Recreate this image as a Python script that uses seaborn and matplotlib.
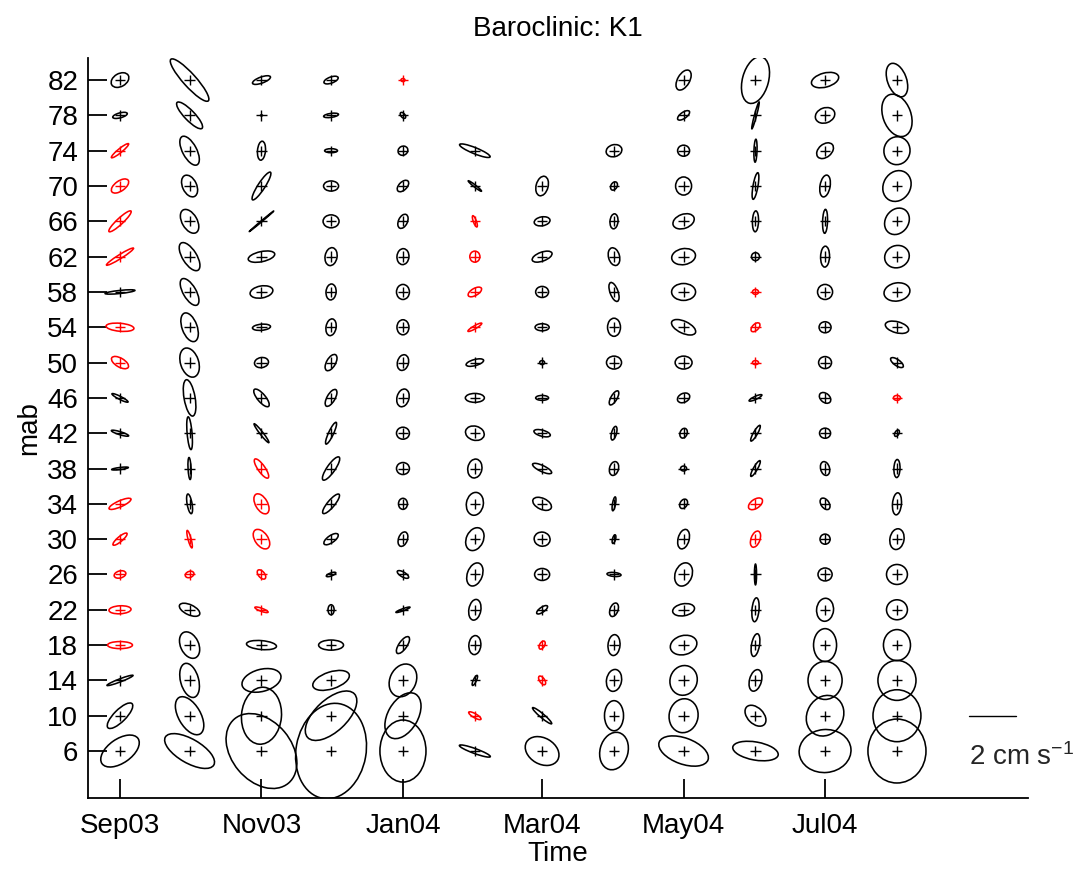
import numpy as np
import pandas as pd
import matplotlib
matplotlib.use("Agg")
import matplotlib.pyplot as plt
import matplotlib.dates as mdates
from matplotlib.collections import EllipseCollection
import seaborn as sns

# ---------------- data ----------------
mab = [82, 78, 74, 70, 66, 62, 58, 54, 50, 46, 42, 38, 34, 30, 26, 22, 18, 14, 10, 6]
months = ["2003-09-01", "2003-10-01", "2003-11-01", "2003-12-01", "2004-01-01", "2004-02-01",
          "2004-03-01", "2004-04-01", "2004-05-01", "2004-06-01", "2004-07-01", "2004-08-01"]
tick_dates = ["2003-09-01", "2003-11-01", "2004-01-01", "2004-03-01", "2004-05-01", "2004-07-01"]
tick_labels = ["Sep03", "Nov03", "Jan04", "Mar04", "May04", "Jul04"]
nan = np.nan

# major / minor axis (cm/s, full length), inclination (deg)
maj_sep = [0.81,0.64,0.94,0.85,1.28,1.36,1.28,1.19,0.81,0.77,0.77,0.72,1.02,0.77,0.51,0.94,1.06,1.19,1.45,1.87]
min_sep = [0.55,0.21,0.17,0.43,0.26,0.17,0.13,0.34,0.38,0.13,0.13,0.09,0.26,0.21,0.30,0.34,0.30,0.13,0.51,1.02]
inc_sep = [30,15,39,35,43,32,6,-5,-30,-27,-17,7,24,40,15,3,0,21,45,35]

maj_oct = [2.38,1.53,1.36,0.98,1.11,1.36,1.28,1.28,1.28,1.57,1.40,0.94,0.85,0.77,0.38,0.94,1.19,1.49,1.79,2.38]
min_oct = [0.55,0.43,0.60,0.60,0.64,0.60,0.55,0.64,0.77,0.47,0.21,0.13,0.21,0.13,0.26,0.43,0.77,0.77,0.94,1.02]
inc_oct = [-48,-46,-62,-65,-60,-58,-60,-70,-72,-80,-85,-87,-80,-75,20,-25,-65,-75,-60,-30]

maj_nov = [0.81,0.09,0.81,1.40,1.36,1.15,0.98,0.77,0.60,0.94,1.02,0.98,0.94,0.94,0.47,0.60,1.28,1.70,2.43,3.57]
min_nov = [0.26,0.04,0.34,0.30,0.04,0.43,0.51,0.26,0.43,0.34,0.13,0.30,0.51,0.55,0.26,0.13,0.38,0.94,1.70,2.55]
inc_nov = [20,0,85,57,40,12,10,5,10,-50,-52,-55,-60,-55,-50,-20,-5,15,85,-50]

maj_dec = [0.64,0.64,0.55,0.64,0.68,0.77,0.68,0.72,0.77,0.81,1.02,1.19,1.06,0.72,0.43,0.43,1.06,1.62,2.72,4.09]
min_dec = [0.26,0.17,0.17,0.43,0.55,0.51,0.43,0.43,0.38,0.34,0.21,0.34,0.30,0.30,0.13,0.26,0.43,0.72,1.36,2.98]
inc_dec = [20,8,0,0,0,80,85,80,60,60,65,55,50,35,20,90,0,18,43,80]

maj_jan = [0.17,0.30,0.43,0.60,0.64,0.68,0.64,0.64,0.68,0.77,0.55,0.55,0.47,0.64,0.55,0.64,0.85,1.45,2.13,2.64]
min_jan = [0.13,0.17,0.38,0.34,0.38,0.51,0.55,0.51,0.47,0.51,0.51,0.51,0.38,0.38,0.21,0.09,0.34,1.11,1.28,1.96]
inc_jan = [0,-50,30,45,65,85,90,90,75,75,0,0,90,70,-30,20,55,65,60,90]

maj_feb = [nan,nan,1.40,0.72,0.51,0.47,0.64,0.68,0.77,0.81,0.81,0.81,0.98,1.02,1.02,0.89,0.81,0.47,0.60,1.40]
min_feb = [nan,nan,0.26,0.09,0.13,0.43,0.30,0.13,0.26,0.38,0.60,0.60,0.72,0.72,0.64,0.51,0.51,0.13,0.17,0.21]
inc_feb = [nan,nan,-22,-38,-70,90,30,30,15,0,-15,80,80,65,70,80,85,65,-30,-20]

maj_mar = [nan,nan,nan,0.85,0.68,0.89,0.55,0.60,0.21,0.55,0.72,0.89,0.85,0.68,0.64,0.55,0.38,0.43,1.06,1.53]
min_mar = [nan,nan,nan,0.51,0.38,0.38,0.47,0.30,0.17,0.21,0.26,0.26,0.47,0.60,0.51,0.21,0.21,0.21,0.17,1.11]
inc_mar = [nan,nan,nan,75,10,20,0,0,0,0,-15,-25,-25,-10,0,35,60,-55,-40,-30]

maj_apr = [nan,nan,0.68,0.38,0.64,0.77,0.85,0.77,0.64,0.68,0.60,0.60,0.60,0.38,0.60,0.60,0.89,0.94,1.28,1.62]
min_apr = [nan,nan,0.51,0.26,0.34,0.47,0.34,0.55,0.55,0.26,0.21,0.38,0.13,0.13,0.17,0.34,0.51,0.64,0.81,1.19]
inc_apr = [nan,nan,15,60,85,-75,-70,90,0,60,75,75,80,75,-5,70,85,80,90,75]

maj_may = [0.94,0.60,0.51,0.77,0.94,1.02,1.02,1.11,0.72,0.55,0.43,0.26,0.43,0.85,1.02,0.94,1.15,1.28,1.45,2.21]
min_may = [0.51,0.26,0.47,0.68,0.60,0.68,0.72,0.51,0.55,0.38,0.30,0.21,0.30,0.47,0.72,0.51,0.81,1.15,1.23,1.11]
inc_may = [60,35,0,90,20,10,0,-25,0,25,70,0,60,75,70,10,15,70,80,-20]

maj_jun = [2.04,1.19,0.98,1.15,0.89,0.34,0.26,0.47,0.26,0.60,0.77,0.77,0.68,0.72,0.89,1.02,0.98,0.94,1.06,1.96]
min_jun = [1.11,0.09,0.13,0.21,0.26,0.34,0.21,0.26,0.17,0.13,0.17,0.17,0.38,0.38,0.09,0.30,0.34,0.51,0.68,0.77]
inc_jun = [75,75,88,80,88,0,0,45,0,25,60,60,35,70,90,85,80,75,-45,-10]

maj_jul = [1.19,0.85,0.81,0.94,1.02,0.89,0.64,0.51,0.55,0.55,0.47,0.60,0.55,0.43,0.60,0.98,1.40,1.62,1.79,2.21]
min_jul = [0.60,0.64,0.55,0.43,0.21,0.38,0.64,0.47,0.51,0.38,0.43,0.38,0.34,0.43,0.55,0.72,0.98,1.45,1.53,1.83]
inc_jul = [15,20,40,80,88,88,0,0,0,-40,0,-75,-55,0,0,85,90,90,60,5]

maj_aug = [1.49,1.87,1.19,1.36,1.19,1.06,1.11,1.02,0.64,0.30,0.30,0.77,0.94,0.89,0.89,0.89,1.32,1.70,2.21,2.72]
min_aug = [0.81,1.19,1.11,1.15,0.98,0.94,0.77,0.47,0.26,0.21,0.17,0.26,0.38,0.60,0.85,0.85,1.15,1.62,2.04,2.47]
inc_aug = [-70,-70,80,60,55,20,10,-15,-35,0,60,88,85,80,0,0,90,90,90,90]

# depths (mab) flagged in red for each month
red_sep = [74, 70, 66, 62, 54, 50, 34, 30, 26, 22, 18]
red_oct = [30, 26]
red_nov = [38, 34, 30, 26, 22]
red_dec = []
red_jan = [82]
red_feb = [66, 62, 58, 54, 10]
red_mar = [18, 14]
red_apr = []
red_may = []
red_jun = [58, 54, 50, 34, 30]
red_jul = []
red_aug = [46]

scale_value = 2  # cm/s
scale_date = "2004-09-01"

# ---------------- build table ----------------
majs = [maj_sep, maj_oct, maj_nov, maj_dec, maj_jan, maj_feb, maj_mar, maj_apr, maj_may, maj_jun, maj_jul, maj_aug]
mins = [min_sep, min_oct, min_nov, min_dec, min_jan, min_feb, min_mar, min_apr, min_may, min_jun, min_jul, min_aug]
incs = [inc_sep, inc_oct, inc_nov, inc_dec, inc_jan, inc_feb, inc_mar, inc_apr, inc_may, inc_jun, inc_jul, inc_aug]
reds = [red_sep, red_oct, red_nov, red_dec, red_jan, red_feb, red_mar, red_apr, red_may, red_jun, red_jul, red_aug]

rows = []
for m, ma, mi, inc, rd in zip(months, majs, mins, incs, reds):
    for z, a, b, t in zip(mab, ma, mi, inc):
        if np.isnan(a):
            continue
        rows.append(dict(date=pd.Timestamp(m), mab=z, major=a, minor=b, inc=t,
                         flag="red" if z in rd else "black"))
df = pd.DataFrame(rows)
df["x"] = mdates.date2num(df["date"])

# ---------------- figure ----------------
sns.set_theme(style="white")
plt.rcParams["font.family"] = ["Liberation Sans", "DejaVu Sans"]
plt.rcParams["mathtext.default"] = "regular"

W, H, DPI = 1086, 869, 100
fig = plt.figure(figsize=(W / DPI, H / DPI), dpi=DPI)
ax = fig.add_axes([88 / W, 71 / H, 940 / W, 740 / H])

x0 = mdates.date2num(pd.Timestamp(months[0]))
ax.set_xlim(x0 - 13.8, x0 + 391.5)
ax.set_ylim(0.68, 84.5)

PX_PER_CMS = 23.5
colors = np.where(df["flag"] == "red", "#ff0000", "#000000")
ec = EllipseCollection(widths=df["major"].values * PX_PER_CMS,
                       heights=df["minor"].values * PX_PER_CMS,
                       angles=df["inc"].values, units="dots",
                       offsets=df[["x", "mab"]].values,
                       offset_transform=ax.transData,
                       facecolors="none", edgecolors=colors, linewidths=1.15)
ax.add_collection(ec)

sns.scatterplot(data=df, x="x", y="mab", hue="flag", palette={"red": "#ff0000", "black": "#000000"},
                marker="+", s=55, linewidth=1.0, legend=False, ax=ax, zorder=3)

# scale bar
ax_w_px = ax.get_position().width * W
days_per_px = (ax.get_xlim()[1] - ax.get_xlim()[0]) / ax_w_px
xs = mdates.date2num(pd.Timestamp(scale_date))
ax.plot([xs, xs + scale_value * PX_PER_CMS * days_per_px], [10, 10], color="black", lw=1.0)
ax.text(xs, 5.3, f"{scale_value} cm s$^{{-1}}$", fontsize=20, ha="left", va="center", clip_on=False)

# axes styling
ax.set_yticks(mab)
ax.set_yticklabels([str(v) for v in mab])
ax.set_xticks(mdates.date2num(pd.to_datetime(tick_dates)))
ax.set_xticklabels(tick_labels)
ax.tick_params(direction="in", length=14, width=1.3, labelsize=20, pad=7, colors="black",
               left=True, bottom=True, right=False, top=False)
ax.tick_params(axis="x", pad=11)
for s in ["top", "right"]:
    ax.spines[s].set_visible(False)
for s in ["left", "bottom"]:
    ax.spines[s].set_color("black")
    ax.spines[s].set_linewidth(1.3)
ax.set_xlabel("Time", fontsize=20, labelpad=1, color="black")
ax.set_ylabel("mab", fontsize=20, labelpad=4, color="black")
ax.set_title("Baroclinic: K1", fontsize=20, pad=16, color="black")
ax.grid(False)

fig.savefig("out.png", dpi=DPI)
